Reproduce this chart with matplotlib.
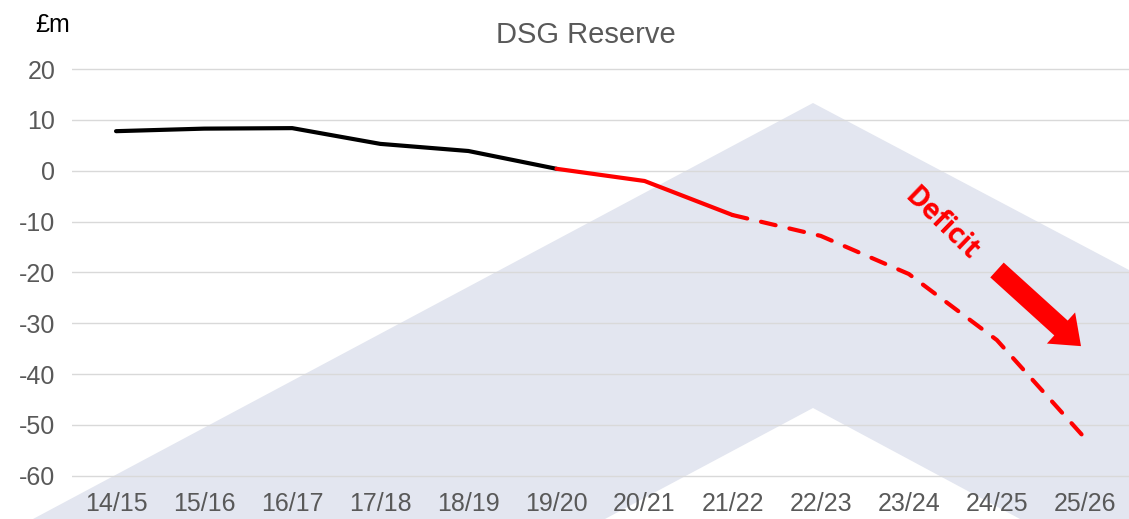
import matplotlib
matplotlib.use("Agg")
import matplotlib.pyplot as plt
from matplotlib.patches import Polygon, FancyArrow

plt.rcParams['font.family'] = ['Liberation Sans', 'DejaVu Sans']
plt.rcParams['axes.unicode_minus'] = False

# Datos
years = ["14/15", "15/16", "16/17", "17/18", "18/19", "19/20",
         "20/21", "21/22", "22/23", "23/24", "24/25", "25/26"]
actual = [7.8, 8.3, 8.4, 5.3, 3.9, 0.4]          # 14/15 - 19/20
recent = [0.4, -2.0, -8.7]                       # 19/20 - 21/22
forecast = [-8.7, -12.8, -20.3, -33.3, -52.6]    # 21/22 - 25/26
yticks = [20, 10, 0, -10, -20, -30, -40, -50, -60]

W, H, DPI = 1129, 519, 100
fig = plt.figure(figsize=(W / DPI, H / DPI), dpi=DPI)

# Fondo: chevron gris-azulado (en pixeles de la figura)
def px(x, y):
    return (x / W, (H - y) / H)

chev = [px(33, 519), px(813, 103), px(1129, 270), px(1129, 519),
        px(1020, 519), px(813, 408), px(605, 519)]
fig.patches.append(Polygon(chev, closed=True, transform=fig.transFigure,
                           facecolor="#E3E6F0", edgecolor="none", zorder=-5))

ax = fig.add_axes([72 / W, (H - 489) / H, (W - 72) / W, 430 / H])
ax.set_zorder(1)
ax.patch.set_alpha(0)

xs = list(range(len(years)))
ax.plot(xs[0:6], actual, color="black", lw=3.0, solid_capstyle="round", zorder=3)
ax.plot(xs[5:8], recent, color="#FF0000", lw=3.0, solid_capstyle="round", zorder=3)
ax.plot(xs[7:12], forecast, color="#FF0000", lw=3.0, dashes=(3.6, 3.4),
        dash_capstyle="round", zorder=3)

ax.set_xlim(-0.5, 11.5)
ax.set_ylim(-62.6, 22)
ax.set_yticks(yticks)
ax.set_xticks(xs)
ax.set_xticklabels(years)
ax.tick_params(axis="both", length=0, labelsize=18, labelcolor="#595959")
ax.tick_params(axis="y", pad=12)
ax.tick_params(axis="x", pad=2)
ax.grid(axis="y", color="#D9D9D9", lw=1.0)
ax.set_axisbelow(True)
for s in ax.spines.values():
    s.set_visible(False)

# Textos
fig.text(586 / W, (H - 35) / H, "DSG Reserve", ha="center", va="center",
         fontsize=21, color="#595959")
fig.text(53 / W, (H - 25) / H, "£m", ha="center", va="center",
         fontsize=18, color="black")
fig.text(941 / W, (H - 224) / H, "Deficit", ha="center", va="center",
         rotation=-44, fontsize=20, fontweight="bold", color="#FF0000",
         family=["Open Sans", "DejaVu Sans"], zorder=5)

# Flecha roja
fig.patches.append(FancyArrow(9.97, 2.49, 0.64, -0.58, width=0.2,
                              head_width=0.42, head_length=0.27,
                              length_includes_head=False,
                              transform=fig.dpi_scale_trans,
                              facecolor="#FF0000", edgecolor="none", zorder=5))

fig.savefig("out.png", dpi=DPI)
